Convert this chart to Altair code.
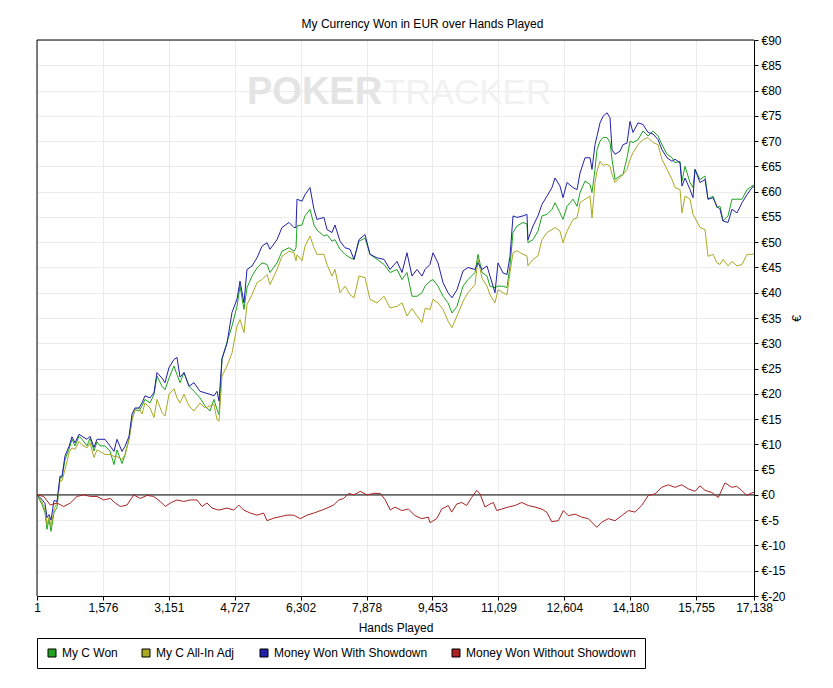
import altair as alt
import pandas as pd

title_text = "My Currency Won in EUR over Hands Played"
series_names = ["My C Won", "My C All-In Adj", "Money Won With Showdown", "Money Won Without Showdown"]
series_colors = ["#1fa31f", "#aaaa22", "#2020aa", "#aa2222"]
x_ticks = [1, 1576, 3151, 4727, 6302, 7878, 9453, 11029, 12604, 14180, 15755, 17138]
y_ticks = list(range(-20, 95, 5))

hands = [
    1, 121, 192, 240, 288, 336, 407, 479, 551, 599,
    670, 766, 838, 909, 1005, 1077, 1196, 1268, 1363, 1435,
    1507, 1626, 1746, 1841, 1913, 2033, 2104, 2200, 2272, 2343,
    2439, 2511, 2582, 2702, 2797, 2869, 2989, 3060, 3156, 3275,
    3347, 3419, 3514, 3634, 3753, 3897, 4016, 4136, 4231, 4303,
    4351, 4423, 4542, 4662, 4781, 4853, 4948, 5020, 5140, 5259,
    5379, 5498, 5570, 5737, 5857, 6024, 6143, 6191, 6215, 6335,
    6406, 6526, 6621, 6693, 6860, 6932, 7052, 7123, 7243, 7363,
    7482, 7578, 7697, 7841, 7960, 8127, 8295, 8438, 8605, 8725,
    8844, 8964, 9083, 9203, 9275, 9394, 9466, 9585, 9705, 9824,
    9920, 10039, 10183, 10302, 10470, 10541, 10637, 10756, 10828, 10948,
    11019, 11139, 11234, 11306, 11378, 11473, 11617, 11712, 11736, 11856,
    11975, 12071, 12190, 12310, 12382, 12501, 12573, 12669, 12812, 12908,
    12980, 13099, 13219, 13266, 13338, 13386, 13458, 13529, 13625, 13697,
    13745, 13816, 13936, 14007, 14103, 14175, 14246, 14366, 14485, 14605,
    14724, 14844, 14939, 15059, 15178, 15250, 15370, 15417, 15489, 15609,
    15680, 15728, 15848, 15967, 16039, 16158, 16254, 16326, 16397, 16517,
    16612, 16732, 16851, 16971, 17090, 17138,
]

with_showdown = [
    0, -0.9, -1.7, -4.5, -3.9, -5.0, -1.1, -1.3, 3.7, 3.7,
    7.7, 9.6, 11.5, 10.3, 12.0, 11.6, 11.0, 11.6, 9.4, 11.0,
    11.0, 11.0, 9.7, 8.6, 11.0, 8.6, 9.6, 11.6, 16.0, 17.2,
    17.2, 18.2, 19.6, 19.2, 20.2, 24.2, 23.1, 22.2, 25.2, 26.8,
    27.2, 23.3, 24.2, 21.5, 22.2, 20.5, 20.2, 19.9, 19.6, 20.5,
    18.6, 27.0, 30.0, 36.1, 38.7, 42.3, 38.0, 44.6, 45.3, 46.9,
    49.2, 49.9, 48.6, 50.5, 52.9, 53.9, 52.9, 52.9, 58.5, 58.1,
    59.4, 60.8, 56.5, 54.5, 54.9, 52.5, 51.9, 53.4, 50.2, 48.9,
    48.6, 46.6, 50.5, 51.5, 47.6, 46.9, 46.6, 44.6, 46.2, 44.0,
    47.9, 43.3, 44.6, 43.3, 44.6, 45.6, 47.9, 45.9, 42.0, 40.0,
    39.0, 40.6, 44.3, 45.0, 44.6, 45.9, 44.6, 45.3, 43.3, 40.0,
    45.9, 43.9, 43.6, 47.2, 55.2, 54.9, 55.2, 55.5, 50.5, 53.2,
    55.2, 57.5, 59.1, 60.8, 62.7, 61.1, 58.8, 61.8, 60.8, 60.4,
    63.7, 66.7, 66.7, 64.4, 69.3, 71.0, 73.6, 74.9, 75.6, 74.6,
    68.3, 67.4, 68.0, 69.3, 69.6, 73.9, 71.7, 73.6, 73.3, 71.7,
    71.4, 70.3, 68.3, 66.7, 66.0, 66.4, 65.7, 61.1, 62.7, 60.4,
    58.8, 64.4, 61.8, 62.4, 58.5, 58.8, 57.1, 56.5, 54.2, 53.9,
    56.5, 55.8, 57.8, 59.4, 60.8, 61.0,
]

won = [
    0, -1.9, -3.5, -6.8, -4.8, -7.2, -3.5, -2.5, 3.4, 3.4,
    7.0, 9.0, 11.0, 9.7, 11.6, 11.0, 9.7, 11.2, 8.7, 10.5,
    9.7, 9.7, 8.7, 6.0, 8.9, 6.2, 7.9, 11.0, 14.9, 16.9,
    16.6, 17.6, 18.9, 18.2, 19.9, 23.5, 21.5, 20.8, 23.1, 25.5,
    23.8, 22.2, 24.2, 21.5, 20.5, 19.2, 17.6, 16.6, 18.9, 16.9,
    15.9, 26.8, 30.2, 33.4, 37.3, 41.3, 36.7, 41.0, 43.3, 44.9,
    45.9, 45.6, 44.0, 45.9, 48.2, 48.9, 48.2, 48.9, 53.2, 53.4,
    55.2, 56.5, 53.4, 52.4, 51.2, 51.5, 50.2, 50.5, 48.6, 47.6,
    46.9, 46.6, 50.2, 50.8, 47.6, 46.6, 45.6, 44.0, 44.6, 42.6,
    44.0, 39.3, 39.3, 40.0, 41.3, 42.3, 42.6, 41.3, 39.3, 38.0,
    36.0, 37.3, 41.3, 42.6, 44.0, 47.6, 44.0, 43.3, 41.3, 41.0,
    41.3, 41.3, 41.0, 45.3, 51.9, 53.2, 53.9, 53.6, 49.9, 50.5,
    52.2, 55.2, 55.5, 56.5, 57.8, 55.8, 54.5, 57.1, 58.5, 57.1,
    59.8, 62.1, 61.4, 59.8, 64.4, 68.3, 70.0, 70.7, 70.7, 69.7,
    66.4, 62.4, 63.1, 63.4, 66.7, 70.0, 69.7, 70.3, 72.0, 71.0,
    72.0, 71.0, 69.3, 67.4, 66.7, 65.7, 66.0, 62.1, 65.0, 61.8,
    60.8, 64.4, 62.4, 63.1, 58.5, 59.1, 56.8, 57.1, 54.2, 55.2,
    58.5, 58.5, 58.5, 60.4, 61.1, 61.2,
]

all_in_adj = [
    0, -1.4, -2.9, -5.8, -4.4, -6.2, -2.9, -1.5, 2.8, 2.8,
    5.0, 8.3, 9.3, 9.0, 10.6, 9.9, 9.3, 10.3, 7.4, 8.9,
    8.6, 8.0, 8.0, 7.6, 7.6, 7.0, 8.0, 11.0, 14.9, 16.9,
    17.2, 16.0, 18.2, 17.2, 15.3, 18.9, 16.3, 15.6, 19.9, 21.0,
    19.2, 18.2, 19.9, 17.6, 16.6, 18.2, 17.2, 17.6, 17.9, 14.9,
    14.6, 23.5, 25.5, 28.1, 33.4, 34.7, 32.1, 37.7, 39.6, 42.0,
    42.6, 43.6, 41.6, 44.6, 47.2, 48.2, 47.9, 46.3, 47.5, 46.3,
    49.2, 51.2, 48.9, 47.6, 47.6, 45.6, 43.3, 44.6, 40.0, 41.3,
    39.6, 39.0, 43.3, 43.0, 38.7, 38.0, 39.3, 37.0, 37.3, 38.0,
    35.4, 36.9, 35.4, 34.1, 36.9, 36.7, 38.7, 38.0, 36.7, 34.4,
    33.1, 35.4, 38.3, 40.0, 41.6, 46.6, 42.9, 41.3, 39.6, 38.0,
    40.6, 40.0, 39.6, 44.0, 47.9, 48.3, 47.6, 47.3, 45.3, 46.6,
    47.3, 50.5, 51.9, 52.5, 52.9, 52.2, 49.9, 52.2, 54.5, 54.8,
    57.8, 58.5, 59.1, 54.8, 61.8, 64.1, 66.0, 65.2, 65.4, 65.0,
    63.4, 61.8, 62.8, 63.4, 64.4, 66.4, 67.7, 69.3, 70.3, 70.7,
    69.7, 69.3, 66.4, 64.4, 62.4, 60.8, 60.4, 55.8, 59.1, 58.5,
    55.5, 54.8, 52.9, 52.5, 47.2, 47.6, 45.9, 45.6, 46.6, 45.3,
    46.2, 45.3, 45.6, 47.6, 47.6, 47.7,
]

hands_nsd = [
    1, 161, 319, 479, 639, 797, 957, 1117, 1275, 1435,
    1595, 1753, 1872, 1992, 2152, 2312, 2470, 2630, 2790, 2948,
    3067, 3187, 3347, 3507, 3665, 3825, 3945, 4064, 4184, 4344,
    4542, 4703, 4822, 4942, 5100, 5259, 5419, 5498, 5659, 5816,
    5976, 6136, 6294, 6454, 6614, 6813, 6932, 7092, 7212, 7332,
    7451, 7571, 7728, 7888, 8049, 8206, 8326, 8445, 8558, 8718,
    8876, 9036, 9196, 9354, 9394, 9554, 9673, 9831, 9912, 10032,
    10151, 10271, 10390, 10510, 10589, 10709, 10828, 10907, 10988, 11108,
    11266, 11426, 11586, 11744, 11904, 12064, 12183, 12303, 12461, 12580,
    12700, 12860, 13020, 13178, 13379, 13498, 13656, 13816, 13976, 14134,
    14294, 14454, 14612, 14772, 14932, 15090, 15250, 15410, 15568, 15728,
    15847, 15967, 16127, 16285, 16445, 16605, 16724, 16844, 16963, 17083,
    17138,
]

without_showdown = [
    0, -0.3, -2.0, -1.6, -2.3, -1.6, -0.3, 0.0, -0.3, -0.3,
    -1.0, -0.7, -1.6, -2.3, -2.0, 0.0, -0.7, -0.1, -0.3, -1.3,
    -2.3, -1.6, -1.0, -1.3, -1.0, -1.0, -2.3, -1.6, -2.6, -3.0,
    -2.6, -3.0, -2.0, -3.0, -3.6, -4.0, -3.6, -5.1, -4.6, -4.3,
    -4.0, -4.0, -4.7, -4.0, -3.6, -3.0, -2.6, -2.0, -1.0, -0.7,
    0.3, 0.0, 0.7, 0.0, 0.3, 0.3, -1.0, -3.0, -2.4, -3.1,
    -2.8, -4.1, -4.7, -4.4, -5.5, -4.7, -2.8, -2.1, -3.4, -1.8,
    -1.5, -2.1, -0.5, 0.9, 0.2, -2.4, -1.8, -1.5, -3.1, -2.8,
    -2.4, -2.1, -1.5, -2.1, -2.4, -2.8, -3.4, -5.3, -5.1, -3.1,
    -4.1, -3.8, -4.4, -4.7, -6.4, -5.4, -4.7, -5.1, -4.1, -3.1,
    -3.4, -2.1, -0.1, 0.2, 1.5, 2.0, 1.5, 2.0, 1.2, 0.7,
    1.8, 0.9, 0.5, -0.5, 2.4, 1.5, 1.7, 0.9, -0.1, 0.4,
    0.5,
]

rows = []
for h, v in zip(hands, won):
    rows.append({"hand": h, "value": v, "series": series_names[0]})
for h, v in zip(hands, all_in_adj):
    rows.append({"hand": h, "value": v, "series": series_names[1]})
for h, v in zip(hands, with_showdown):
    rows.append({"hand": h, "value": v, "series": series_names[2]})
for h, v in zip(hands_nsd, without_showdown):
    rows.append({"hand": h, "value": v, "series": series_names[3]})
df = pd.DataFrame(rows)
legend_df = pd.DataFrame({"series": series_names})

FONT = "Liberation Sans"
x_scale = alt.Scale(domain=[x_ticks[0], x_ticks[-1]], nice=False, zero=False)
y_scale = alt.Scale(domain=[y_ticks[0], y_ticks[-1]], nice=False, zero=False)
color_scale = alt.Scale(domain=series_names, range=series_colors)

x_axis = alt.Axis(
    values=x_ticks, labelExpr="format(datum.value, ',d')", title="Hands Played",
    labelFlush=False, labelOverlap=False,
    tickSize=4, labelPadding=2, titlePadding=9, grid=True,
)
y_axis = alt.Axis(
    orient="right", values=y_ticks, labelExpr="'€' + datum.value", title="€",
    tickSize=4, labelPadding=3, titleAngle=270, titlePadding=18, grid=True, labelOverlap=False,
)

legend = alt.Legend(
    orient="none", legendX=0, legendY=598, direction="horizontal", columns=4,
    symbolType="square", symbolSize=64, symbolStrokeWidth=1, symbolStrokeColor="black",
    symbolOpacity=1, labelLimit=300,
    labelFont=FONT, labelFontSize=12, labelColor="black", labelOffset=4,
    columnPadding=22, padding=9, strokeColor="black",
)

watermark_poker = alt.Chart(pd.DataFrame({"t": ["POKER"]})).mark_text(
    font=FONT, fontSize=38, fontWeight="bold",
    color="#e4e4e4", align="left", baseline="alphabetic",
).encode(text="t:N", x=alt.value(210), y=alt.value(64))

watermark_tracker = alt.Chart(pd.DataFrame({"t": ["TRACKER"]})).mark_text(
    font=FONT, fontSize=35,
    color="#f1f1f1", align="left", baseline="alphabetic",
).encode(text="t:N", x=alt.value(347), y=alt.value(64))

zero_rule = alt.Chart(pd.DataFrame({"y": [0]})).mark_rule(color="black", strokeWidth=1).encode(
    y=alt.Y("y:Q", scale=y_scale, axis=y_axis)
)
frame_left = alt.Chart(pd.DataFrame({"x": [x_ticks[0]]})).mark_rule(color="black", strokeWidth=1).encode(
    x=alt.X("x:Q", scale=x_scale, axis=x_axis)
)
frame_top = alt.Chart(pd.DataFrame({"y": [y_ticks[-1]]})).mark_rule(color="black", strokeWidth=1).encode(
    y=alt.Y("y:Q", scale=y_scale, axis=y_axis)
)

lines = alt.Chart(df).mark_line(strokeWidth=1).encode(
    x=alt.X("hand:Q", scale=x_scale, axis=x_axis),
    y=alt.Y("value:Q", scale=y_scale, axis=y_axis),
    color=alt.Color("series:N", scale=color_scale, legend=None),
)

legend_keys = alt.Chart(legend_df).mark_square(filled=True, size=64, opacity=0).encode(
    x=alt.value(0), y=alt.value(0),
    color=alt.Color("series:N", scale=color_scale, legend=legend, title=None),
)

chart = alt.layer(
    watermark_poker, watermark_tracker, frame_left, frame_top, zero_rule, lines, legend_keys
).resolve_legend(color="independent").properties(
    width=717, height=556,
    title=alt.TitleParams(title_text, font=FONT, fontSize=12, fontWeight="normal",
                          color="black", anchor="middle", dx=27, offset=3),
    autosize=alt.AutoSizeParams(type="none"),
    padding={"left": 29, "top": 32, "right": 70, "bottom": 78},
    background="white",
).configure_view(
    stroke="black", strokeWidth=1
).configure_axis(
    domainColor="black", tickColor="black", gridColor="#ebebeb", labelColor="black",
    labelFont=FONT, labelFontSize=12, titleFont=FONT, titleFontSize=12,
    titleFontWeight="normal", titleColor="black",
)

chart.save("out.html", embed_options={"renderer": "svg", "actions": False})
